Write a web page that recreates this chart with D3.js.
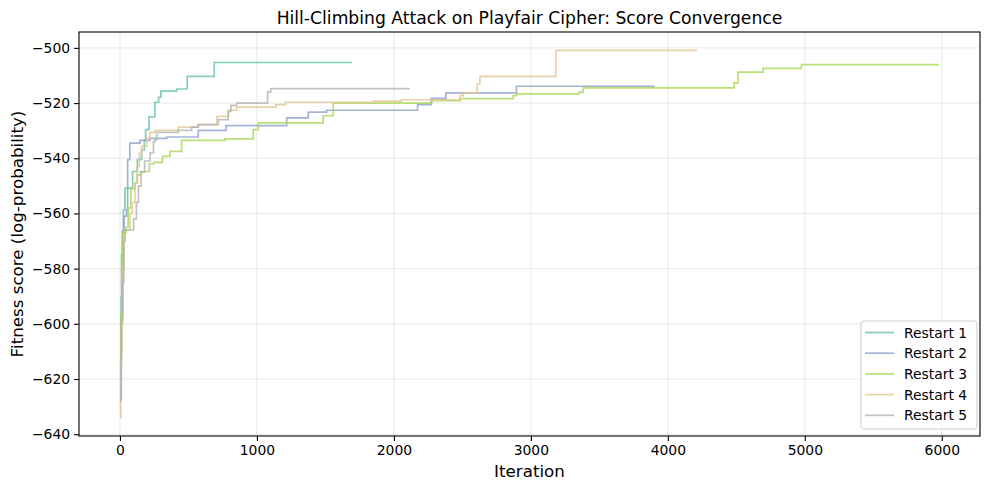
<!DOCTYPE html>
<html lang="en">
<head>
    <meta charset="UTF-8">
    <title>Hill-Climbing Attack on Playfair Cipher</title>
    <script src="https://d3js.org/d3.v7.min.js"></script>
    <style>
        body { margin: 0; background: #fff; font-family: "DejaVu Sans", sans-serif; }
    </style>
</head>
<body>
    <div id="chart"></div>
    <script>
        // best score so far, recorded at each improvement: [iteration, score]
        const restart1 = [[0,-616],[8,-590],[12,-575],[17,-566.5],[25,-558.7],[36,-550.8],[92,-544.8],[127,-540.5],
            [158,-537],[178,-533.3],[187,-529.6],[212,-525],[255,-519.7],[282,-517.9],[299,-515.7],[414,-514.9],
            [491,-510.3],[688,-505.3],[1696,-505.3]];
        const restart2 = [[0,-627],[10,-600],[18,-585],[24,-566],[30,-561],[49,-558.7],[56,-540.5],[72,-534.5],
            [146,-533.5],[219,-532.8],[341,-532.3],[572,-529.9],[774,-528.2],[1217,-525.4],[1375,-523.3],
            [1508,-522.6],[2173,-520.6],[2273,-518.3],[2380,-516.3],[2895,-513.9],[3905,-513.9]];
        const restart3 = [[0,-622],[8,-596],[14,-578],[20,-567],[45,-565],[60,-558],[80,-551],[110,-549],[127,-546],
            [150,-544.8],[214,-542],[248,-541.5],[311,-539.3],[365,-537.5],[450,-533.5],[766,-533],[973,-529.6],
            [1010,-527.2],[1484,-524.6],[1557,-520],[2275,-519.1],[2487,-518.4],[2871,-517.3],[2895,-516.7],
            [3353,-516],[3382,-514.5],[4484,-512.7],[4513,-508.8],[4696,-507.4],[4975,-506.1],[5980,-506.1]];
        const restart4 = [[0,-634],[6,-615],[12,-600],[18,-596],[22,-580],[30,-566],[73,-560],[90,-556],[110,-549],
            [125,-543],[141,-538.1],[158,-535.7],[195,-532.6],[219,-530.6],[255,-529.9],[426,-528.7],[572,-527.8],
            [706,-524.8],[791,-522.6],[852,-521.5],[1139,-520.6],[1209,-519.7],[1849,-519.3],[2056,-518.8],
            [2482,-517.3],[2506,-516.3],[2608,-513],[2628,-510.3],[3182,-500.9],[4214,-500.9]];
        const restart5 = [[0,-628],[6,-612],[12,-598],[20,-585],[28,-570],[38,-566],[100,-562],[120,-556],[135,-550],
            [155,-545],[180,-541],[220,-538],[245,-534],[255,-533.3],[268,-530.6],[426,-529.9],[523,-528.7],
            [572,-527.8],[718,-526],[791,-523],[810,-520.8],[852,-520],[1078,-516],[1100,-514.8],[2117,-514.8]];

        const names = ["Restart 1", "Restart 2", "Restart 3", "Restart 4", "Restart 5"];
        const colors = ["#66c2a5", "#8da0cb", "#a6d854", "#e5c494", "#b3b3b3"];
        const xTicks = [0, 1000, 2000, 3000, 4000, 5000, 6000];
        const yTicks = [-640, -620, -600, -580, -560, -540, -520, -500];

        const series = [restart1, restart2, restart3, restart4, restart5];

        const W = 989, H = 490;
        const margin = {top: 32, right: 9, bottom: 54, left: 79};
        const width = W - margin.left - margin.right;
        const height = H - margin.top - margin.bottom;

        const svg = d3.select("#chart").append("svg")
            .attr("width", W).attr("height", H);
        const g = svg.append("g").attr("transform", `translate(${margin.left},${margin.top})`);

        // matplotlib style 5% padding
        const all = series.flat();
        const xe = d3.extent(all, d => d[0]), ye = d3.extent(all, d => d[1]);
        const xp = (xe[1] - xe[0]) * 0.05, yp = (ye[1] - ye[0]) * 0.05;
        const x = d3.scaleLinear().domain([xe[0] - xp, xe[1] + xp]).range([0, width]);
        const y = d3.scaleLinear().domain([ye[0] - yp, ye[1] + yp]).range([height, 0]);

        const fmt = v => String(v).replace("-", "\u2212");

        // grid
        g.append("g").selectAll("line").data(xTicks).join("line")
            .attr("x1", d => x(d)).attr("x2", d => x(d)).attr("y1", 0).attr("y2", height)
            .attr("stroke", "#b0b0b0").attr("stroke-opacity", 0.35).attr("stroke-width", 0.8);
        g.append("g").selectAll("line").data(yTicks).join("line")
            .attr("y1", d => y(d)).attr("y2", d => y(d)).attr("x1", 0).attr("x2", width)
            .attr("stroke", "#b0b0b0").attr("stroke-opacity", 0.35).attr("stroke-width", 0.8);

        // lines
        const line = d3.line().x(d => x(d[0])).y(d => y(d[1])).curve(d3.curveStepAfter);
        series.forEach((s, i) => {
            g.append("path").datum(s)
                .attr("fill", "none")
                .attr("stroke", colors[i])
                .attr("stroke-opacity", 0.8)
                .attr("stroke-width", 1.7)
                .attr("d", line);
        });

        // axes
        const xAxis = g.append("g").attr("transform", `translate(0,${height})`)
            .call(d3.axisBottom(x).tickValues(xTicks).tickSize(4.9).tickPadding(4).tickFormat(fmt));
        const yAxis = g.append("g")
            .call(d3.axisLeft(y).tickValues(yTicks).tickSize(4.9).tickPadding(4).tickFormat(fmt));
        [xAxis, yAxis].forEach(a => {
            a.select(".domain").remove();
            a.selectAll("text").attr("font-family", "DejaVu Sans").attr("font-size", 13.9).attr("fill", "#000");
            a.selectAll("line").attr("stroke", "#000").attr("stroke-width", 1.1);
        });

        g.append("rect").attr("width", width).attr("height", height)
            .attr("fill", "none").attr("stroke", "#000").attr("stroke-width", 1.1);

        // labels
        svg.append("text")
            .attr("x", margin.left + width / 2).attr("y", 24)
            .attr("text-anchor", "middle")
            .attr("font-size", 17.2)
            .text("Hill-Climbing Attack on Playfair Cipher: Score Convergence");
        svg.append("text")
            .attr("x", margin.left + width / 2).attr("y", 477)
            .attr("text-anchor", "middle")
            .attr("font-size", 16.7)
            .text("Iteration");
        svg.append("text")
            .attr("transform", `translate(23,${margin.top + height / 2}) rotate(-90)`)
            .attr("text-anchor", "middle")
            .attr("font-size", 16.7)
            .text("Fitness score (log-probability)");

        // legend
        const lg = svg.append("g").attr("transform", "translate(861,321)");
        lg.append("rect").attr("width", 116).attr("height", 108).attr("rx", 3)
            .attr("fill", "#fff").attr("fill-opacity", 0.8)
            .attr("stroke", "#cccccc").attr("stroke-width", 1);
        names.forEach((n, i) => {
            const yy = 11.5 + i * 20.7;
            lg.append("line").attr("x1", 4).attr("x2", 33).attr("y1", yy).attr("y2", yy)
                .attr("stroke", colors[i]).attr("stroke-opacity", 0.8).attr("stroke-width", 1.7);
            lg.append("text").attr("x", 43).attr("y", yy + 5)
                .attr("font-size", 13.9).text(n);
        });
    </script>
</body>
</html>
